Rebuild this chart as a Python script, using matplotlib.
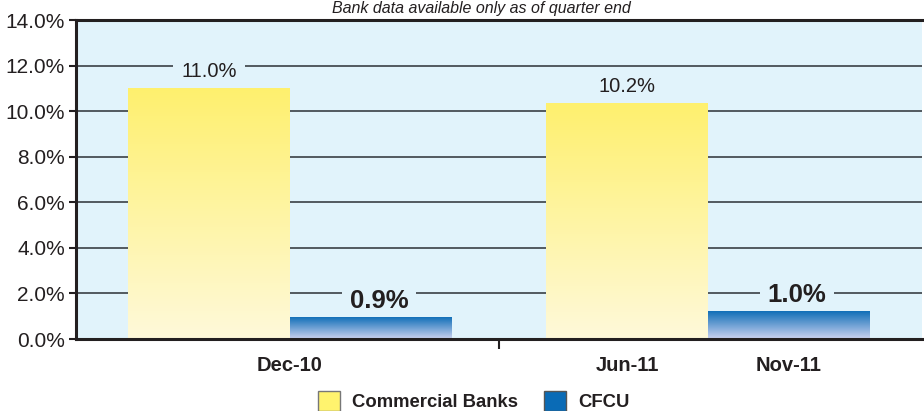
import numpy as np
import matplotlib
matplotlib.use("Agg")
import matplotlib.pyplot as plt
from matplotlib.patches import Patch
from matplotlib.colors import LinearSegmentedColormap

# ---- data ----
groups = [0, 1]
bank_values = [11.0, 10.35]
bank_labels = ["11.0%", "10.2%"]
cfcu_values = [0.98, 1.23]
cfcu_labels = ["0.9%", "1.0%"]
tick_names = ["Dec-10", "Jun-11", "Nov-11"]
y_ticks = [0, 2, 4, 6, 8, 10, 12, 14]
subtitle = "Bank data available only as of quarter end"
legend_names = ["Commercial Banks", "CFCU"]

plt.rcParams['font.family'] = ['Liberation Sans', 'DejaVu Sans']

fig = plt.figure(figsize=(9.24, 4.11), dpi=100)
ax = fig.add_axes([76/924, 1 - 339/411, (922-76)/924, (339-20)/411])
bg = "#E1F3FB"
ax.set_facecolor(bg)

w = 0.387
yellow_cmap = LinearSegmentedColormap.from_list("y", ["#FEF9DA", "#FFF06E"])
blue_cmap = LinearSegmentedColormap.from_list("b", ["#CDD3F0", "#0A6BB6"])
grad = np.linspace(0, 1, 256).reshape(-1, 1)

def grad_bars(xs, vals, cmap):
    bars = ax.bar(xs, vals, width=w, align='edge', color='none', edgecolor='none', zorder=3)
    for b in bars:
        x0, y0 = b.get_x(), b.get_y()
        x1, y1 = x0 + b.get_width(), y0 + b.get_height()
        im = ax.imshow(grad, cmap=cmap, extent=(x0, x1, y0, y1), origin='lower',
                       aspect='auto', zorder=3, interpolation='bilinear')
        im.set_clip_path(b)
    return bars

bank_x = [g - w for g in groups]
cfcu_x = [g for g in groups]
grad_bars(bank_x, bank_values, yellow_cmap)
grad_bars(cfcu_x, cfcu_values, blue_cmap)

ax.set_xlim(-0.512, 1.512)
ax.set_ylim(0, 14)

# gridlines
for yt in y_ticks[1:-1]:
    ax.axhline(yt, color="#3a3f45", lw=1.2, zorder=1)

# data labels (boxes hide gridlines, bars stay on top)
for g, v, t in zip(groups, bank_values, bank_labels):
    ax.annotate(t, (g - w/2, v), xytext=(0, 5), textcoords='offset points',
                ha='center', va='bottom', fontsize=14.5, color="#231f20", zorder=2,
                bbox=dict(boxstyle='square,pad=0.4', fc=bg, ec='none'))
for g, v, t in zip(groups, cfcu_values, cfcu_labels):
    ax.annotate(t, (g + w/2, v), xytext=(6, 3), textcoords='offset points',
                ha='center', va='bottom', fontsize=18.5, fontweight='bold', color="#231f20", zorder=2,
                bbox=dict(boxstyle='square,pad=0.3', fc=bg, ec='none'))

# y axis
ax.set_yticks(y_ticks)
ax.set_yticklabels([f"{v:.1f}%" for v in y_ticks], fontsize=15, color="#231f20")
ax.tick_params(axis='y', length=5, width=1.5, color="#231f20", pad=3)

# x axis
ax.set_xticks([0, 1 - w/2, 1 + w/2])
ax.set_xticklabels(tick_names, fontsize=14.5, fontweight='bold', color="#231f20")
ax.tick_params(axis='x', length=0, pad=12)
ax.set_xticks([0.5], minor=True)
ax.tick_params(axis='x', which='minor', length=7, width=1.5, color="#231f20")

for s in ['left', 'bottom', 'top']:
    ax.spines[s].set_linewidth(2.2)
    ax.spines[s].set_color("#231f20")
    ax.spines[s].set_zorder(5)
ax.spines['right'].set_visible(False)

fig.text(481/924, 1 - 1/411, subtitle, ha='center', va='top', fontsize=11.5,
         style='italic', color="#231f20")

handles = [Patch(facecolor="#FFF36E", edgecolor="#777777", lw=1),
           Patch(facecolor="#0A6BB6", edgecolor="#555555", lw=1)]
fig.legend(handles, legend_names, loc='center', bbox_to_anchor=(474/924, 1 - 401/411),
           ncol=2, frameon=False, borderpad=0, handlelength=1.2, handleheight=1.25,
           handletextpad=0.65, columnspacing=1.4,
           prop=dict(size=13.3, weight='bold'), labelcolor="#231f20")

fig.savefig("out.png", dpi=100)
